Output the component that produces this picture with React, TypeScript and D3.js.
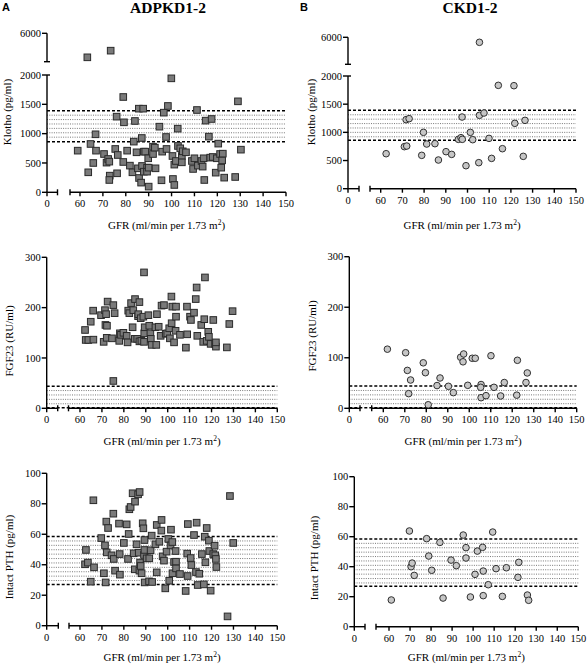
import React from "react";
import * as d3 from "d3";

const W = 588;
const H = 665;

// ---------- data: [GFR, value] ----------
const adpkdKlotho: [number, number][] = [
  [63.2, 3040], [73.4, 3860], [59, 710], [63.6, 341], [64.6, 824], [65.8, 500], [66.8, 989], [67, 710],
  [70.5, 653], [71.6, 506], [72.3, 568], [72.8, 523], [73, 284], [72.8, 210], [75.4, 739], [76, 1290],
  [76.2, 324], [76.5, 636], [78.9, 1625], [79.2, 1193], [78.9, 517], [80.6, 710], [81.8, 455], [82.9, 341],
  [83.5, 864], [84, 1216], [84.7, 682], [85.3, 409], [85.7, 1426], [85.8, 244], [86.7, 165], [87.1, 449],
  [87, 926], [87.6, 1426], [87.9, 693], [87.9, 352], [88.5, 693], [89.3, 420], [89.8, 580], [89.3, 352],
  [90, 97], [90, 420], [91.9, 778], [91.9, 653], [92.7, 761], [93, 409], [94.7, 1119], [95.6, 205],
  [95.9, 693], [96.6, 1358], [97.6, 943], [97.8, 739], [98.4, 1472], [99.9, 1943], [100.4, 619], [100.6, 227],
  [101.2, 472], [101.2, 125], [101.9, 534], [102.7, 1085], [102.8, 790], [103.8, 750], [104.5, 619], [104.5, 511],
  [104.9, 699], [106.3, 682], [108.9, 534], [109.4, 398], [110, 580], [111.1, 1403], [111.5, 455], [113.1, 534],
  [113.6, 438], [114, 580], [114.3, 210], [114.9, 1222], [116.3, 949], [116.9, 591], [117.5, 1250], [118, 602],
  [119.3, 335], [119.8, 580], [120.4, 830], [121.2, 653], [121.7, 420], [122.1, 545], [122.4, 659], [123, 250],
  [127.8, 261], [129, 1551], [130.3, 727],
];

const ckdKlotho: [number, number][] = [
  [62.5, 621], [70.9, 746], [71.7, 1225], [72, 757], [73.1, 1243], [78.9, 592], [79.7, 1000], [81.2, 793],
  [85, 799], [86.6, 509], [90.1, 657], [92.7, 609], [95.8, 876], [97, 905], [97.5, 1272], [97.6, 876],
  [99.3, 408], [101.3, 1000], [102.4, 870], [105.2, 462], [105.5, 1302], [105.5, 5350], [107.6, 1343], [109.9, 893],
  [111.1, 538], [114.2, 1834], [116.1, 710], [121.4, 1828], [121.8, 1160], [125.7, 574], [126.5, 1213],
];

const adpkdFgf23: [number, number][] = [
  [62.3, 155.6], [62.6, 135.8], [63.8, 135.8], [64.9, 172], [66.1, 136.4], [66, 194], [69.6, 185], [70.8, 132],
  [71.4, 195], [71.6, 165.6], [71.9, 187], [72.2, 140], [72.3, 164], [72.6, 212], [74.6, 139], [75.2, 205],
  [75.8, 189], [75.2, 54.3], [77.9, 134], [78.2, 149], [78.7, 146], [79.8, 150], [81.3, 144], [81.7, 131],
  [82, 194], [82.5, 189], [83.3, 209], [84, 161], [84.3, 195], [85.1, 217], [85, 138], [86.1, 138],
  [86.5, 183], [86.6, 187], [87.1, 211], [87.1, 133], [87.7, 179], [88, 134], [88.9, 182], [89.2, 270],
  [89.2, 132], [89.3, 149], [89.5, 161], [91.2, 185], [91.6, 164], [92.1, 149], [92.3, 138], [92.7, 126],
  [94.4, 161], [94.8, 126], [95.1, 187], [95.9, 162], [96.8, 144], [97.2, 204], [98.3, 205], [99.1, 148],
  [99.8, 149], [100.7, 159], [101, 139], [101.7, 222], [101.8, 169], [102.1, 202], [102.9, 131], [103.8, 202],
  [103.6, 154], [103.8, 182], [105.6, 146], [108.3, 120.5], [108.8, 202], [108.9, 147], [110.2, 182], [110.6, 175.5],
  [112, 190], [112.8, 217], [113.2, 240], [113.5, 144], [115.3, 165.6], [116.2, 132], [116.7, 177], [117, 260],
  [117.8, 134], [118.5, 152], [118.8, 142], [119.6, 128], [120.8, 175.5], [121.6, 128], [122, 122.5], [122, 131],
  [127, 121], [128.1, 167.5], [129.6, 193],
];

const ckdFgf23: [number, number][] = [
  [61.9, 117], [70.4, 110], [71.2, 75], [71.8, 29], [72.7, 56], [78.6, 90], [79.6, 70.5], [80.9, 7],
  [85, 45], [86.4, 60], [90.3, 43.5], [92.6, 31], [96, 101], [97.1, 92], [97.4, 107.5], [99.3, 45.5],
  [101.4, 99], [102.8, 99], [105.5, 47], [105.3, 41.5], [105.5, 21], [107.8, 25], [110.1, 104], [111.5, 41.5],
  [114.6, 24.4], [116.3, 51], [122.1, 26], [122.4, 95], [126.4, 51], [127, 70],
];

const adpkdPth: [number, number][] = [
  [62.3, 40.3], [62.7, 49.7], [63.6, 41.4], [64.9, 28.9], [66.1, 82.3], [66.4, 38.3], [69.7, 57.5], [70.9, 34.4],
  [71.4, 52.7], [71.7, 28.4], [72, 68.3], [72.2, 48.1], [72.8, 64.1], [74.4, 46.2], [75.2, 73.5], [75.4, 43.8],
  [76, 36.1], [77.8, 67], [78.1, 47], [78.2, 33.5], [80, 54.3], [81.3, 66.5], [81.9, 43.8], [82.2, 60.2],
  [82.5, 76.4], [83.1, 77.9], [84, 86.9], [84.5, 47.5], [85, 37], [85.1, 81.4], [85.8, 53.4], [86.5, 86.2],
  [86.8, 47.9], [87.1, 36.1], [87.2, 87.7], [87.4, 41.4], [87.7, 39.2], [88.1, 34.4], [88.6, 67.2], [88.9, 63.9],
  [89.2, 46.4], [89.4, 49.7], [89.4, 56.2], [89.5, 28.4], [90.4, 44.2], [91.5, 29.1], [91.6, 44.2], [92.2, 49.5],
  [92.7, 59.1], [92.9, 28.7], [94.4, 53.4], [95, 66.1], [95, 35], [96.2, 55.1], [97.1, 62.4], [97.2, 69.4],
  [97.7, 45.5], [98.3, 42.7], [98.9, 24.5], [99.5, 48.6], [100.3, 56.9], [100.7, 29.5], [101.3, 52.7], [101.5, 63],
  [102.1, 54.9], [102.2, 34.4], [102.9, 41.8], [103.6, 49], [103.8, 42], [103.8, 37.6], [105.6, 33.9], [108.2, 22.8],
  [108.9, 47.3], [109.2, 66.7], [109.1, 32.6], [110.5, 44.4], [110.8, 39.8], [112, 59.5], [112.9, 35.2], [113.2, 67.6],
  [113.7, 26.7], [114.4, 34.1], [115.6, 47], [116.5, 27.1], [116.9, 58.4], [117.2, 41.6], [117.8, 64.1], [118.8, 55.8],
  [119, 49], [119.6, 23], [120.8, 47], [121.4, 52.5], [121.7, 46.2], [122, 43.8], [122.2, 38.5], [127.3, 6.1],
  [128.4, 85.1], [129.9, 54.3],
];

const ckdPth: [number, number][] = [
  [61.1, 17.8], [69.7, 63.8], [70.5, 40], [71, 42.4], [72, 34.2], [77.9, 58.7], [78.9, 47.1], [80.3, 37.6],
  [84.2, 56.2], [85.7, 19.1], [89.5, 44.4], [92, 40.7], [95.3, 61.1], [96.6, 52.7], [96.6, 45.8], [98.7, 19.8],
  [100.9, 34.9], [102, 50.4], [104.5, 52.9], [104.8, 37.1], [104.8, 20.7], [107.2, 28], [109.3, 63.1], [110.9, 38.7],
  [113.9, 20.2], [115.8, 39.3], [121.3, 32.9], [121.7, 42.9], [125.8, 21.1], [126.4, 17.6],
];

// ---------- ticks, bands, labels ----------
const gfrTicks = [60, 70, 80, 90, 100, 110, 120, 130, 140, 150];
const klothoTicks = [0, 500, 1000, 1500, 2000];
const klothoUpperDomain = [2500, 6000];
const klothoUpperTicks = [6000];
const fgf23Ticks = [0, 100, 200, 300];
const pthTicks = [0, 20, 40, 60, 80, 100];
const klothoBand = [860, 1390];
const fgf23Band = [1, 44];
const pthBand = [27, 58.5];
const columnTitles = ["ADPKD1-2", "CKD1-2"];
const columnLetters = ["A", "B"];
const yTitles = ["Klotho (pg/ml)", "FGF23 (RU/ml)", "Intact PTH (pg/ml)"];

type Geo = {
  x0: number; leftEnd: number; rightStart: number; x60: number; x150: number;
  yBottom: number; yTop: number; upTop?: number; upBottom?: number;
  yTitleX: number; yTitleY: number; xTitleY: number;
};

type PanelProps = {
  geo: Geo;
  data: [number, number][];
  ticks: number[];
  band: number[];
  marker: "square" | "circle";
  yTitle: string;
  upper?: boolean;
};

const SERIF = "'Liberation Serif', 'Times New Roman', serif";
const AX = 1.4;

function Panel({ geo, data, ticks, band, marker, yTitle, upper }: PanelProps) {
  const lowerMax = ticks[ticks.length - 1];
  const xr = d3.scaleLinear().domain([60, 150]).range([geo.x60, geo.x150]);
  const k = (geo.x150 - geo.x60) / 90;
  const xl = d3.scaleLinear().domain([0, 10]).range([geo.x0, geo.x0 + 10 * k]);
  const yLow = d3.scaleLinear().domain([0, lowerMax]).range([geo.yBottom, geo.yTop]);
  const yUp = upper
    ? d3.scaleLinear().domain(klothoUpperDomain).range([geo.upBottom!, geo.upTop!])
    : null;
  const yv = (v: number) => (yUp && v > lowerMax ? yUp(v) : yLow(v));

  const bandTop = yLow(band[1]);
  const bandBot = yLow(band[0]);
  const bx0 = xl(0);
  const bx1 = xr(150);
  const dotted: number[] = [];
  for (let yy = bandTop + 4.4; yy < bandBot - 1.5; yy += 4.4) dotted.push(yy);

  const fs = 10.5;
  const xTitleCenter = (geo.x0 + geo.x150) / 2;

  return (
    <g>
      {/* reference band */}
      {dotted.map((yy, i) => (
        <line key={"d" + i} x1={bx0} x2={bx1} y1={yy} y2={yy} stroke="#6a6a6a" strokeWidth={0.9} strokeDasharray="1 1.3" />
      ))}
      {[bandTop, bandBot].map((yy, i) => (
        <line key={"b" + i} x1={bx0} x2={bx1} y1={yy} y2={yy} stroke="#000" strokeWidth={1.5} strokeDasharray="3 2" />
      ))}

      {/* y axis lower */}
      <line x1={geo.x0} x2={geo.x0} y1={geo.yBottom} y2={geo.yTop} stroke="#000" strokeWidth={AX} />
      {ticks.map((t) => (
        <g key={"yt" + t}>
          <line x1={geo.x0 - 5} x2={upper && t === lowerMax ? geo.x0 + 3 : geo.x0} y1={yLow(t)} y2={yLow(t)} stroke="#000" strokeWidth={AX} />
          <text x={geo.x0 - 6} y={yLow(t)} dy="0.35em" textAnchor="end" fontFamily={SERIF} fontSize={fs}>{t}</text>
        </g>
      ))}
      {upper && yUp && (
        <g>
          <line x1={geo.x0} x2={geo.x0} y1={geo.upBottom!} y2={geo.upTop!} stroke="#000" strokeWidth={AX} />
          <line x1={geo.x0 - 3} x2={geo.x0 + 3} y1={geo.upBottom!} y2={geo.upBottom!} stroke="#000" strokeWidth={AX} />
          {klothoUpperTicks.map((t) => (
            <g key={"ut" + t}>
              <line x1={geo.x0 - 5} x2={geo.x0} y1={yUp(t)} y2={yUp(t)} stroke="#000" strokeWidth={AX} />
              <text x={geo.x0 - 6} y={yUp(t)} dy="0.35em" textAnchor="end" fontFamily={SERIF} fontSize={fs}>{t}</text>
            </g>
          ))}
        </g>
      )}

      {/* x axis, broken */}
      <line x1={geo.x0 - 0.7} x2={geo.leftEnd} y1={geo.yBottom} y2={geo.yBottom} stroke="#000" strokeWidth={AX} />
      <line x1={geo.leftEnd} x2={geo.leftEnd} y1={geo.yBottom - 3} y2={geo.yBottom + 3} stroke="#000" strokeWidth={AX} />
      <line x1={xl(0)} x2={xl(0)} y1={geo.yBottom} y2={geo.yBottom + 4} stroke="#000" strokeWidth={AX} />
      <text x={xl(0)} y={geo.yBottom + 15} textAnchor="middle" fontFamily={SERIF} fontSize={fs}>0</text>
      <line x1={geo.rightStart} x2={geo.x150} y1={geo.yBottom} y2={geo.yBottom} stroke="#000" strokeWidth={AX} />
      <line x1={geo.rightStart} x2={geo.rightStart} y1={geo.yBottom - 3} y2={geo.yBottom + 3} stroke="#000" strokeWidth={AX} />
      {gfrTicks.map((t) => (
        <g key={"xt" + t}>
          <line x1={xr(t)} x2={xr(t)} y1={geo.yBottom} y2={geo.yBottom + 4} stroke="#000" strokeWidth={AX} />
          <text x={xr(t)} y={geo.yBottom + 15} textAnchor="middle" fontFamily={SERIF} fontSize={fs}>{t}</text>
        </g>
      ))}

      {/* points */}
      {data.map(([g, v], i) =>
        marker === "square" ? (
          <rect key={"p" + i} x={xr(g) - 3.3} y={yv(v) - 3.3} width={6.6} height={6.6} fill="#7a7a7a" stroke="#2a2a2a" strokeWidth={1} />
        ) : (
          <circle key={"p" + i} cx={xr(g)} cy={yv(v)} r={3.3} fill="#c6c6c6" stroke="#303030" strokeWidth={1} />
        )
      )}

      {/* titles */}
      <text x={xTitleCenter} y={geo.xTitleY} textAnchor="middle" fontFamily={SERIF} fontSize={11}>
        GFR (ml/min per 1.73 m<tspan dy={-4} fontSize={7.5}>2</tspan><tspan dy={4}>)</tspan>
      </text>
      <text transform={`translate(${geo.yTitleX},${geo.yTitleY}) rotate(-90)`} textAnchor="middle" fontFamily={SERIF} fontSize={11}>
        {yTitle}
      </text>
    </g>
  );
}

const geoTL: Geo = { x0: 47, leftEnd: 57.5, rightStart: 70, x60: 80, x150: 286, yBottom: 192.3, yTop: 75, upTop: 33.3, upBottom: 61.7, yTitleX: 11, yTitleY: 112, xTitleY: 229 };
const geoTR: Geo = { x0: 348, leftEnd: 359, rightStart: 370, x60: 380.7, x150: 576, yBottom: 188.7, yTop: 76, upTop: 37.3, upBottom: 64.3, yTitleX: 315, yTitleY: 112, xTitleY: 229 };
const geoML: Geo = { x0: 46.7, leftEnd: 57.7, rightStart: 68.5, x60: 80, x150: 277.3, yBottom: 408.3, yTop: 257.3, yTitleX: 12.5, yTitleY: 341, xTitleY: 445 };
const geoMR: Geo = { x0: 349.3, leftEnd: 360, rightStart: 371.7, x60: 383.3, x150: 576.7, yBottom: 408.3, yTop: 256.7, yTitleX: 315.5, yTitleY: 336, xTitleY: 445 };
const geoBL: Geo = { x0: 46.7, leftEnd: 58.3, rightStart: 69, x60: 80, x150: 277.3, yBottom: 625.7, yTop: 473.3, yTitleX: 12.5, yTitleY: 557, xTitleY: 661 };
const geoBR: Geo = { x0: 354.3, leftEnd: 365, rightStart: 376, x60: 389, x150: 578.3, yBottom: 626.7, yTop: 476.7, yTitleX: 317.5, yTitleY: 558, xTitleY: 661 };

export default function App() {
  return (
    <div style={{ position: "absolute", left: 0, top: 0 }}>
      <svg width={W} height={H} viewBox={`0 0 ${W} ${H}`} style={{ display: "block", background: "#fff" }}>
        <rect width={W} height={H} fill="#fff" />
        <text x={2} y={11} fontFamily="'Liberation Sans', Arial, sans-serif" fontWeight="bold" fontSize={11}>{columnLetters[0]}</text>
        <text x={300} y={11} fontFamily="'Liberation Sans', Arial, sans-serif" fontWeight="bold" fontSize={11}>{columnLetters[1]}</text>
        <text x={168} y={13} textAnchor="middle" fontFamily={SERIF} fontWeight="bold" fontSize={15.5}>{columnTitles[0]}</text>
        <text x={470} y={13} textAnchor="middle" fontFamily={SERIF} fontWeight="bold" fontSize={15.5}>{columnTitles[1]}</text>

        <Panel geo={geoTL} data={adpkdKlotho} ticks={klothoTicks} band={klothoBand} marker="square" yTitle={yTitles[0]} upper />
        <Panel geo={geoTR} data={ckdKlotho} ticks={klothoTicks} band={klothoBand} marker="circle" yTitle={yTitles[0]} upper />
        <Panel geo={geoML} data={adpkdFgf23} ticks={fgf23Ticks} band={fgf23Band} marker="square" yTitle={yTitles[1]} />
        <Panel geo={geoMR} data={ckdFgf23} ticks={fgf23Ticks} band={fgf23Band} marker="circle" yTitle={yTitles[1]} />
        <Panel geo={geoBL} data={adpkdPth} ticks={pthTicks} band={pthBand} marker="square" yTitle={yTitles[2]} />
        <Panel geo={geoBR} data={ckdPth} ticks={pthTicks} band={pthBand} marker="circle" yTitle={yTitles[2]} />
      </svg>
    </div>
  );
}
